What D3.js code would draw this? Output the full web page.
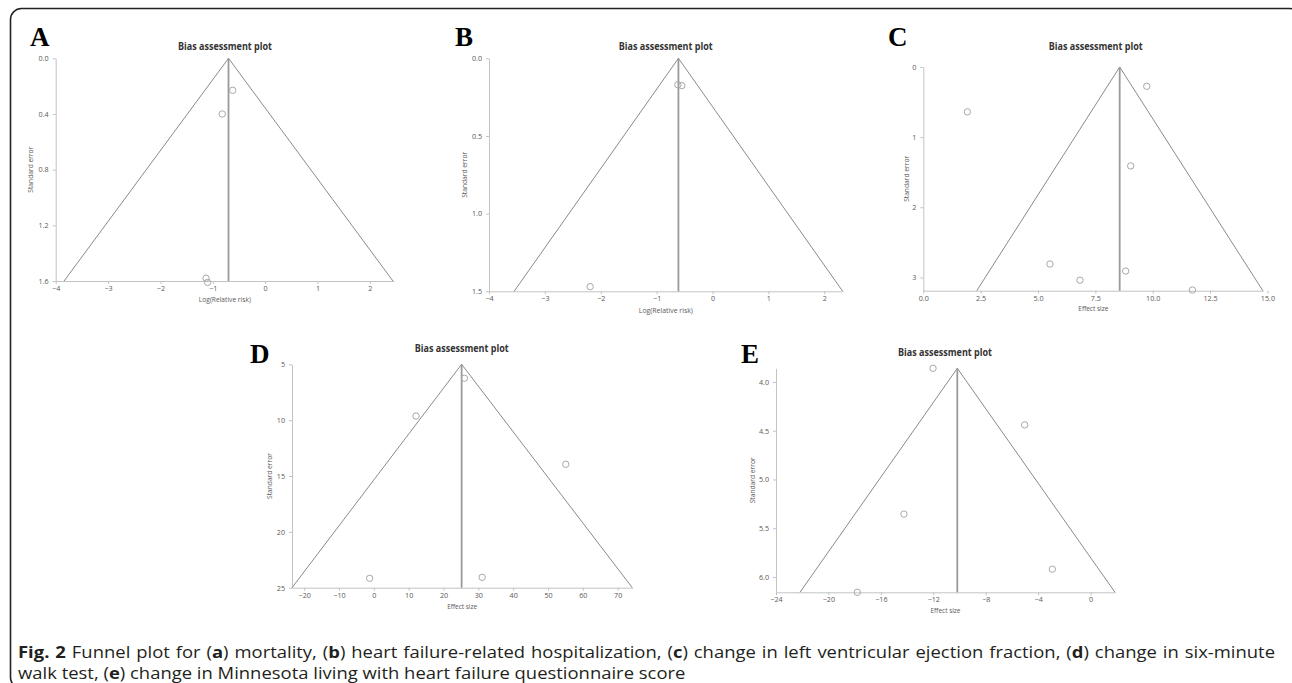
<!DOCTYPE html>
<html>
<head>
<meta charset="utf-8">
<script src="https://cdn.jsdelivr.net/npm/d3@7"></script>
<style>
  body { margin: 0; background: #fff; }
  svg { display: block; }
</style>
</head>
<body>
<script>
// Panel A: mortality
const seTicksA = [0, 0.4, 0.8, 1.2, 1.6];
const effectTicksA = [-4, -3, -2, -1, 0, 1, 2];
const studiesA = [[-0.62, 0.23], [-0.82, 0.40], [-1.13, 1.58], [-1.10, 1.61]];
const funnelA = { center: -0.70, left: -3.84, right: 2.44 };

// Panel B: heart failure-related hospitalization
const seTicksB = [0, 0.5, 1.0, 1.5];
const effectTicksB = [-4, -3, -2, -1, 0, 1, 2];
const studiesB = [[-0.62, 0.17], [-0.55, 0.176], [-2.19, 1.47]];
const funnelB = { center: -0.61, left: -3.55, right: 2.33 };

// Panel C: LVEF
const seTicksC = [0, 1, 2, 3];
const effectTicksC = [0, 2.5, 5, 7.5, 10, 12.5, 15];
const studiesC = [[9.74, 0.275], [1.92, 0.64], [9.04, 1.41], [5.52, 2.81], [6.83, 3.04], [8.82, 2.91], [11.73, 3.18]];
const funnelC = { center: 8.56, left: 2.33, right: 14.8 };

// Panel D: six-minute walk test
const seTicksD = [5, 10, 15, 20, 25];
const effectTicksD = [-20, -10, 0, 10, 20, 30, 40, 50, 60, 70];
const studiesD = [[26.0, 6.25], [12.1, 9.63], [55.1, 13.95], [-1.2, 24.16], [31.1, 24.07]];
const funnelD = { center: 25.2, left: -23.5, right: 74.2 };

// Panel E: Minnesota questionnaire score
const seTicksE = [4.0, 4.5, 5.0, 5.5, 6.0];
const effectTicksE = [-24, -20, -16, -12, -8, -4, 0];
const studiesE = [[-12.02, 3.86], [-5.03, 4.44], [-14.24, 5.355], [-2.92, 5.92], [-17.8, 6.157]];
const funnelE = { center: -10.17, left: -22.17, right: 1.86 };

const width = 1292, height = 683;

const svg = d3.select("body").append("svg")
    .attr("width", width)
    .attr("height", height);

// outer frame
svg.append("rect")
    .attr("x", 10.5).attr("y", 8.5)
    .attr("width", 1290).attr("height", 680)
    .attr("rx", 11)
    .attr("fill", "none")
    .attr("stroke", "#222")
    .attr("stroke-width", 1.6);

const panels = [
  { letter: "A", lx: 30, ly: 46, left: 55.7, right: 394, top: 58.3, bottom: 281,
    xDomain: [-4, 2.46], yDomain: [0, 1.6], xTicks: effectTicksA, yTicks: seTicksA,
    xFmt: d3.format("d"), yFmt: d3.format(".1f"), xLabel: "Log(Relative risk)", xLabelW: 52,
    studies: studiesA, funnel: funnelA, titleX: 225, titleY: 50, xLabelY: 302, yLabelX: 33 },
  { letter: "B", lx: 455, ly: 46, left: 489, right: 842.7, top: 58.3, bottom: 291.3,
    xDomain: [-4, 2.33], yDomain: [0, 1.5], xTicks: effectTicksB, yTicks: seTicksB,
    xFmt: d3.format("d"), yFmt: d3.format(".1f"), xLabel: "Log(Relative risk)", xLabelW: 54,
    studies: studiesB, funnel: funnelB, titleX: 665.7, titleY: 50, xLabelY: 313, yLabelX: 467 },
  { letter: "C", lx: 888, ly: 46, left: 923.3, right: 1263.3, top: 67, bottom: 290.7,
    xDomain: [0, 14.82], yDomain: [0, 3.19], xTicks: effectTicksC, yTicks: seTicksC,
    xFmt: d3.format(".1f"), yFmt: d3.format("d"), xLabel: "Effect size", xLabelW: 30,
    studies: studiesC, funnel: funnelC, titleX: 1095.7, titleY: 50, xLabelY: 311, yLabelX: 909 },
  { letter: "D", lx: 250, ly: 363, left: 292, right: 632.3, top: 364.3, bottom: 587.7,
    xDomain: [-23.5, 74.2], yDomain: [5, 25], xTicks: effectTicksD, yTicks: seTicksD,
    xFmt: d3.format("d"), yFmt: d3.format("d"), xLabel: "Effect size", xLabelW: 30,
    studies: studiesD, funnel: funnelD, titleX: 461.7, titleY: 352, xLabelY: 609, yLabelX: 272 },
  { letter: "E", lx: 741, ly: 363, left: 776, right: 1115, top: 368.3, bottom: 592.3,
    xDomain: [-24, 1.86], yDomain: [3.86, 6.157], xTicks: effectTicksE, yTicks: seTicksE,
    xFmt: d3.format("d"), yFmt: d3.format(".1f"), xLabel: "Effect size", xLabelW: 30,
    studies: studiesE, funnel: funnelE, titleX: 945, titleY: 356, xLabelY: 613, yLabelX: 755 }
];

const axisColor = "#c3c3c3";
const textColor = "#595959";

const drawPanel = p => {
  const x = d3.scaleLinear().domain(p.xDomain).range([p.left, p.right]);
  const y = d3.scaleLinear().domain(p.yDomain).range([p.top, p.bottom]);
  const g = svg.append("g");

  // panel letter
  g.append("text")
      .attr("x", p.lx).attr("y", p.ly)
      .attr("font-family", "'Liberation Serif', 'DejaVu Serif', serif")
      .attr("font-weight", "bold")
      .attr("font-size", 27)
      .attr("fill", "#000")
      .text(p.letter);

  // title
  g.append("text")
      .attr("x", p.titleX).attr("y", p.titleY)
      .attr("text-anchor", "middle")
      .attr("font-family", "'Open Sans', sans-serif")
      .attr("font-weight", "bold")
      .attr("font-size", 10)
      .attr("fill", "#333")
      .attr("textLength", 94)
      .attr("lengthAdjust", "spacingAndGlyphs")
      .text("Bias assessment plot");

  // axes
  const xAxis = g.append("g")
      .attr("transform", `translate(0,${p.bottom})`)
      .call(d3.axisBottom(x).tickValues(p.xTicks).tickFormat(p.xFmt).tickSize(3).tickSizeOuter(0).tickPadding(2));
  const yAxis = g.append("g")
      .attr("transform", `translate(${p.left},0)`)
      .call(d3.axisLeft(y).tickValues(p.yTicks).tickFormat(p.yFmt).tickSize(3).tickSizeOuter(0).tickPadding(4));
  [xAxis, yAxis].forEach(a => {
    a.select(".domain").attr("stroke", axisColor);
    a.selectAll(".tick line").attr("stroke", axisColor);
    a.selectAll(".tick text")
        .attr("fill", textColor)
        .attr("font-family", "'Open Sans', sans-serif")
        .attr("font-size", 7.2);
  });

  // axis titles
  g.append("text")
      .attr("x", (p.left + p.right) / 2)
      .attr("y", p.xLabelY)
      .attr("text-anchor", "middle")
      .attr("font-family", "'Open Sans', sans-serif")
      .attr("font-size", 7.2)
      .attr("fill", textColor)
      .attr("textLength", p.xLabelW)
      .attr("lengthAdjust", "spacingAndGlyphs")
      .text(p.xLabel);
  g.append("text")
      .attr("transform", `translate(${p.yLabelX},${(p.top + p.bottom) / 2}) rotate(-90)`)
      .attr("text-anchor", "middle")
      .attr("font-family", "'Open Sans', sans-serif")
      .attr("font-size", 7.2)
      .attr("fill", textColor)
      .attr("textLength", 46)
      .attr("lengthAdjust", "spacingAndGlyphs")
      .text("Standard error");

  // funnel
  const f = p.funnel;
  const [y0, y1] = p.yDomain;
  g.append("path")
      .datum([[f.left, y1], [f.center, y0], [f.right, y1]])
      .attr("d", d3.line().x(d => x(d[0])).y(d => y(d[1])))
      .attr("fill", "none")
      .attr("stroke", "#8a8a8a")
      .attr("stroke-width", 1);
  g.append("line")
      .attr("x1", x(f.center)).attr("x2", x(f.center))
      .attr("y1", y(y0)).attr("y2", y(y1))
      .attr("stroke", "#9a9a9a")
      .attr("stroke-width", 1.8);

  // studies
  g.append("g")
    .selectAll("circle")
    .data(p.studies)
    .join("circle")
      .attr("cx", d => x(d[0]))
      .attr("cy", d => y(d[1]))
      .attr("r", 3.2)
      .attr("fill", "none")
      .attr("stroke", "#a8a8a8")
      .attr("stroke-width", 1);
};

panels.forEach(drawPanel);

// caption (justified first line)
const captionLines = [
  [["Fig. 2", true], [" Funnel plot for (", false], ["a", true], [") mortality, (", false], ["b", true],
   [") heart failure-related hospitalization, (", false], ["c", true],
   [") change in left ventricular ejection fraction, (", false], ["d", true], [") change in six-minute", false]],
  [["walk test, (", false], ["e", true], [") change in Minnesota living with heart failure questionnaire score", false]]
];
const captionY = [658, 679];

const capTexts = captionLines.map((parts, i) => {
  const t = svg.append("text")
      .attr("x", 0).attr("y", 0)
      .attr("font-family", "'Open Sans', sans-serif")
      .attr("font-size", 16)
      .attr("fill", "#231f20");
  t.selectAll("tspan")
    .data(parts)
    .join("tspan")
      .attr("font-weight", d => d[1] ? "bold" : null)
      .text(d => d[0]);
  return t;
});

const sx = 668 / capTexts[1].node().getComputedTextLength();
capTexts.forEach((t, i) => t.attr("transform", `translate(18,${captionY[i]}) scale(${sx},1)`));
const line1 = captionLines[0].map(d => d[0]).join("");
const nSpaces = (line1.match(/ /g) || []).length;
const w1 = capTexts[0].node().getComputedTextLength();
capTexts[0].attr("word-spacing", (1257 / sx - w1) / nSpaces);
</script>
</body>
</html>
